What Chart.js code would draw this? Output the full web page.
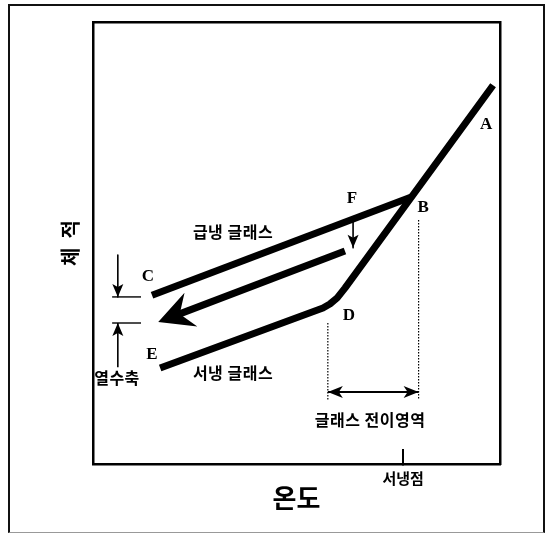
<!DOCTYPE html>
<html>
<head>
<meta charset="utf-8">
<script src="https://cdn.jsdelivr.net/npm/chart.js@4.4.1/dist/chart.umd.min.js"></script>
<style>
  html, body { margin: 0; padding: 0; background: #fff; }
  #wrap { position: relative; width: 549px; height: 533px; }
  #frame { position: absolute; left: 8px; top: 4px; width: 533px; height: 526px;
           border: 2px solid #111; border-bottom: 1px solid #999; pointer-events: none; }
</style>
</head>
<body>
<div id="wrap">
  <canvas id="chart"></canvas>
  <div id="frame"></div>
</div>
<script>
// 온도(x) / 체적(y), 0~100 상대값
const liquidX = [98.3, 61.9, 60.0, 58.2, 56.5, 16.5];   // A -> B -> D -> E (서냉)
const liquidY = [85.7, 39.8, 37.6, 36.2, 35.3, 21.7];
const quenchX = [78.2, 14.5];                             // B -> C (급냉)
const quenchY = [60.4, 38.2];
const relaxX = [61.9, 19.7];                              // 큰 화살표
const relaxY = [48.2, 33.4];
const fArrowX = [63.9, 63.9];
const fArrowY = [54.8, 48.9];
const shrinkDownX = [6.1, 6.1];
const shrinkDownY = [47.3, 37.8];
const shrinkUpX = [6.1, 6.1];
const shrinkUpY = [21.9, 31.9];
const shrinkBarX = [4.7, 11.8];
const shrinkTopY = [37.8, 37.8];
const shrinkBotY = [31.9, 31.9];
const rangeLeftX = [57.7, 57.7];
const rangeLeftY = [31.9, 14.5];
const rangeRightX = [80.0, 80.0];
const rangeRightY = [55.2, 14.5];
const rangeX = [57.7, 80.0];
const rangeY = [16.3, 16.3];

const annealPoint = 76.2;
const annealLabel = "서냉점";

const letters = ["A", "B", "C", "D", "E", "F"];
const letterX = [96.6, 81.1, 13.5, 62.9, 14.5, 63.6];
const letterY = [76.7, 58.1, 42.3, 33.5, 24.7, 60.0];

const notes = ["급냉 글래스", "서냉 글래스", "열수축", "글래스 전이영역"];
const noteX = [34.4, 34.4, 5.9, 68.1];
const noteY = [52.5, 20.6, 19.5, 10.0];

const KR = '"Noto Sans CJK KR", "Noto Sans", sans-serif';

function pts(xs, ys) {
    return xs.map((x, i) => ({ x: x, y: ys[i] }));
}

function line(xs, ys, width, extra) {
    return Object.assign({
        data: pts(xs, ys),
        showLine: true,
        borderColor: "#000",
        backgroundColor: "#000",
        borderWidth: width,
        pointRadius: 0,
        tension: 0,
        borderCapStyle: "butt",
        borderJoinStyle: "round"
    }, extra || {});
}

const bigHead = { len: 35, half: 18, notch: 23, ahead: 16 };
const smallHead = { len: 13, half: 5.5, notch: 10, ahead: 0 };
const rangeHead = { len: 15, half: 6, notch: 11, ahead: 0 };

const arrowPlugin = {
    id: "arrowHeads",
    afterDatasetsDraw(chart) {
        const ctx = chart.ctx;
        chart.data.datasets.forEach((ds, i) => {
            if (!ds.arrows) return;
            const el = chart.getDatasetMeta(i).data;
            ds.arrows.forEach(a => {
                const p = a.at === "end" ? el[el.length - 1] : el[0];
                const q = a.at === "end" ? el[el.length - 2] : el[1];
                const dx = p.x - q.x, dy = p.y - q.y;
                const d = Math.hypot(dx, dy);
                const ux = dx / d, uy = dy / d;
                const h = a.head;
                const tx = p.x + ux * h.ahead, ty = p.y + uy * h.ahead;
                const bx = tx - ux * h.len, by = ty - uy * h.len;
                const nx = tx - ux * h.notch, ny = ty - uy * h.notch;
                ctx.save();
                ctx.fillStyle = "#000";
                ctx.beginPath();
                ctx.moveTo(tx, ty);
                ctx.lineTo(bx - uy * h.half, by + ux * h.half);
                ctx.lineTo(nx, ny);
                ctx.lineTo(bx + uy * h.half, by - ux * h.half);
                ctx.closePath();
                ctx.fill();
                ctx.restore();
            });
        });
    }
};

const labelPlugin = {
    id: "pointLabels",
    afterDatasetsDraw(chart) {
        const ctx = chart.ctx;
        const xs = chart.scales.x, ys = chart.scales.y;
        ctx.save();
        ctx.fillStyle = "#000";
        ctx.textAlign = "center";
        ctx.textBaseline = "middle";
        ctx.font = 'bold 17px "Liberation Serif", serif';
        letters.forEach((t, i) => {
            ctx.fillText(t, xs.getPixelForValue(letterX[i]), ys.getPixelForValue(letterY[i]));
        });
        ctx.font = "bold 16px " + KR;
        ctx.letterSpacing = "0.5px";
        notes.forEach((t, i) => {
            ctx.fillText(t, xs.getPixelForValue(noteX[i]), ys.getPixelForValue(noteY[i]));
        });
        ctx.restore();
    }
};

const datasets = [
    line(liquidX, liquidY, 7),
    line(quenchX, quenchY, 7),
    line(relaxX, relaxY, 7, { arrows: [{ at: "end", head: bigHead }] }),
    line(fArrowX, fArrowY, 1.6, { arrows: [{ at: "end", head: smallHead }] }),
    line(shrinkDownX, shrinkDownY, 1.6, { arrows: [{ at: "end", head: smallHead }] }),
    line(shrinkUpX, shrinkUpY, 1.6, { arrows: [{ at: "end", head: smallHead }] }),
    line(shrinkBarX, shrinkTopY, 1.4),
    line(shrinkBarX, shrinkBotY, 1.4),
    line(rangeLeftX, rangeLeftY, 1.2, { borderDash: [1.5, 1.5] }),
    line(rangeRightX, rangeRightY, 1.2, { borderDash: [1.5, 1.5] }),
    line(rangeX, rangeY, 2, { arrows: [{ at: "start", head: rangeHead }, { at: "end", head: rangeHead }] })
];

new Chart(document.getElementById("chart"), {
    type: "scatter",
    data: { datasets: datasets },
    plugins: [arrowPlugin, labelPlugin],
    options: {
        responsive: true,
        maintainAspectRatio: false,
        animation: false,
        events: [],
        layout: { padding: { left: 0, top: 22, right: 49, bottom: 0 } },
        plugins: { legend: { display: false }, tooltip: { enabled: false } },
        scales: {
            x: {
                type: "linear", position: "bottom", min: 0, max: 100,
                afterBuildTicks: s => { s.ticks = [{ value: annealPoint }]; },
                afterFit: s => { s.height = 69; },
                ticks: {
                    padding: 20, color: "#000", autoSkip: false, maxRotation: 0,
                    font: { family: KR, size: 15, weight: "bold" },
                    callback: () => annealLabel
                },
                grid: { display: true, drawOnChartArea: false, drawTicks: true, tickLength: -15, color: "#000", lineWidth: 2 },
                border: { display: true, color: "#000", width: 2.5 },
                title: {
                    display: true, text: "온도", color: "#000",
                    font: { family: KR, size: 26, weight: "bold" },
                    padding: { top: 0, bottom: 19 }
                }
            },
            y: {
                type: "linear", position: "left", min: 0, max: 100,
                afterFit: s => { s.width = 93; },
                ticks: { display: false },
                grid: { display: false, drawTicks: false },
                border: { display: true, color: "#000", width: 2.5 },
                title: {
                    display: true, text: "체  적", color: "#000",
                    font: { family: KR, size: 20, weight: "bold" },
                    padding: { top: 58, bottom: 11 }
                }
            },
            x2: {
                type: "linear", position: "top", min: 0, max: 100,
                ticks: { display: false },
                grid: { display: false, drawTicks: false },
                border: { display: true, color: "#000", width: 2.5 }
            },
            y2: {
                type: "linear", position: "right", min: 0, max: 100,
                ticks: { display: false },
                grid: { display: false, drawTicks: false },
                border: { display: true, color: "#000", width: 2.5 }
            }
        }
    }
});
</script>
</body>
</html>
